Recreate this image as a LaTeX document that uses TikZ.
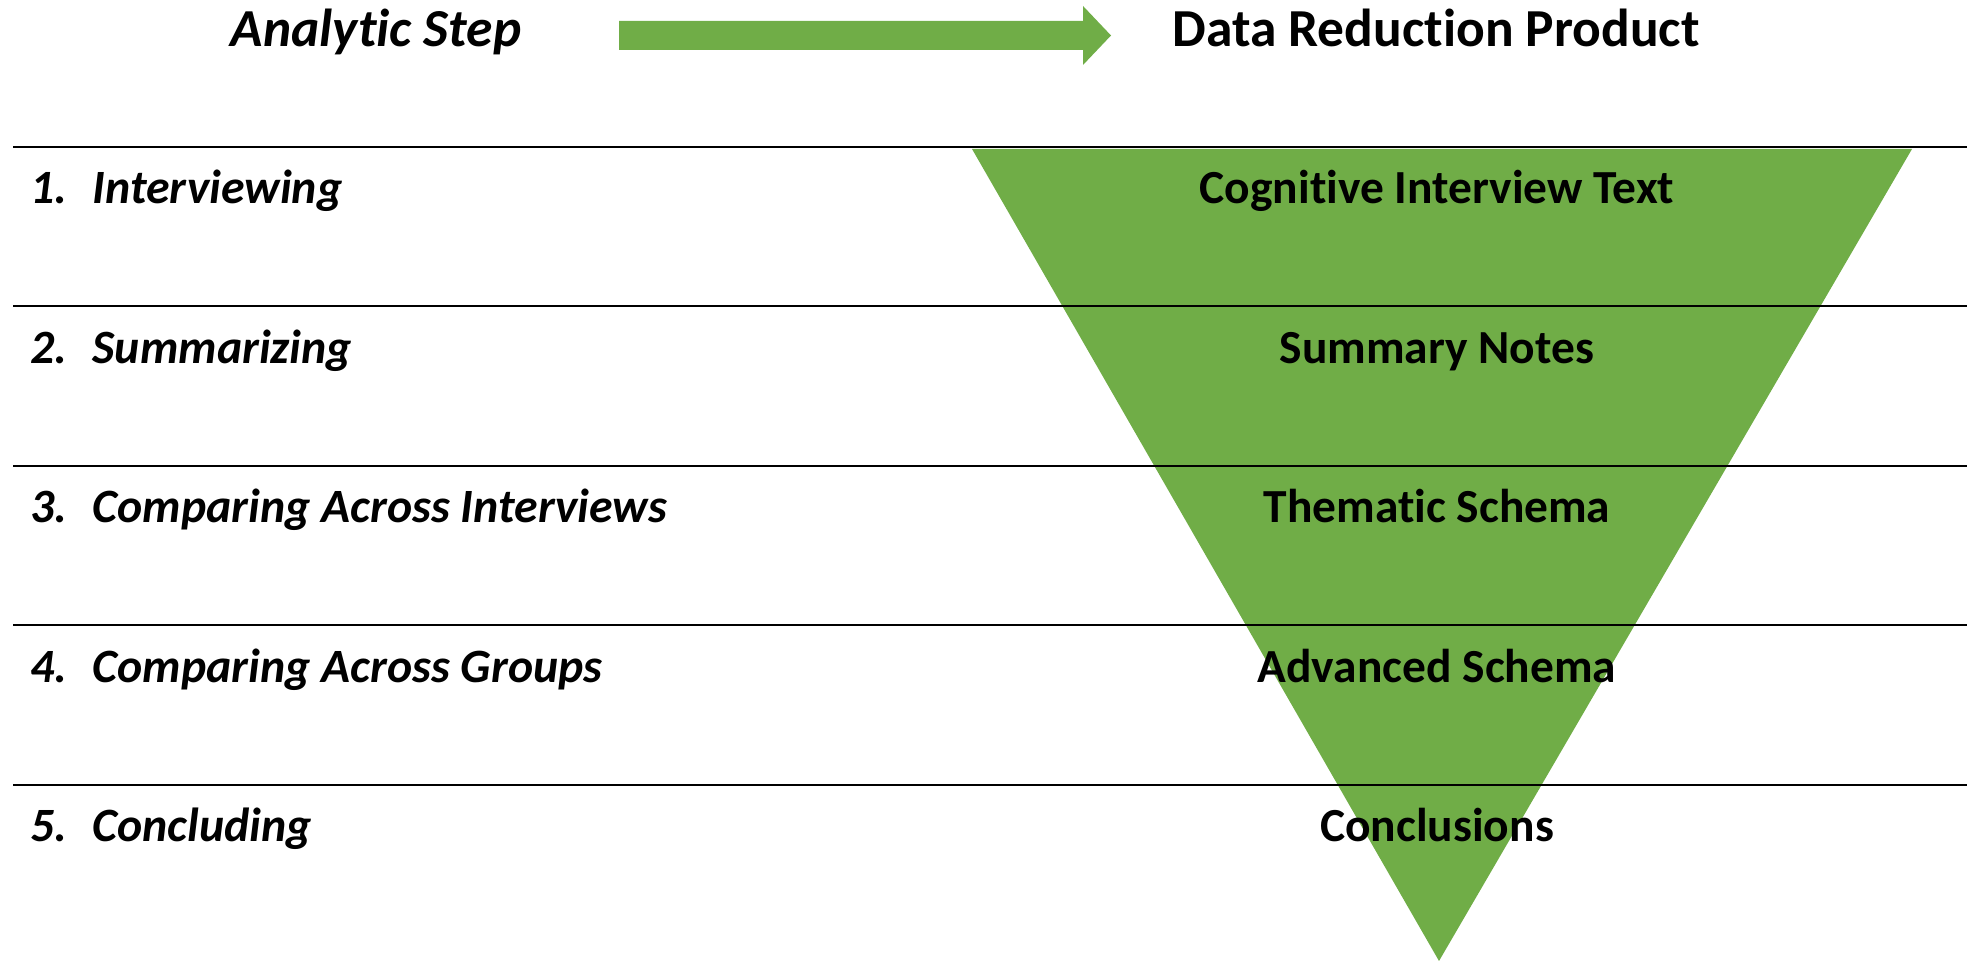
\documentclass[tikz,border=0pt]{standalone}
\usepackage{fontspec}
\setmainfont{Carlito}[Ligatures=NoCommon]
\usetikzlibrary{positioning}
\definecolor{FunnelGreen}{RGB}{112,173,71}

\newcommand{\stepnum}[1]{\makebox[0.62cm][l]{#1}}

\begin{document}
\begin{tikzpicture}[x=0.01cm, y=-0.01cm,
    every node/.style={font=\fontsize{13.5}{16}\selectfont\bfseries, inner sep=0pt},
    steplabel/.style={anchor=base west, font=\fontsize{13.6}{16}\selectfont\bfseries\itshape},
    product/.style={anchor=base},
    header/.style={font=\fontsize{15.2}{18}\selectfont\bfseries, anchor=base},
    rule/.style={line width=0.8pt, black}]
  \useasboundingbox (0,0) rectangle (1967,962);

  % reduction funnel
  \fill[FunnelGreen] (972,149) -- (1912,149) -- (1439,961) -- cycle;

  % row separators
  \draw[rule] (13,147) -- (1967,147);
  \draw[rule] (13,306) -- (1967,306);
  \draw[rule] (13,466) -- (1967,466);
  \draw[rule] (13,625) -- (1967,625);
  \draw[rule] (13,785) -- (1967,785);

  % header
  \node[header, font=\fontsize{15.2}{18}\selectfont\bfseries\itshape] (hstep) at (376,47) {Analytic Step};
  \node[header] (hprod) at (1436,47) {Data Reduction Product};
  \fill[FunnelGreen] (619,21) -- (1083,21) -- (1083,6) -- (1111,35.5)
    -- (1083,65) -- (1083,50) -- (619,50) -- cycle;

  % analytic steps
  \node[steplabel] (s1) at (30,204) {\stepnum{1.}Interviewing};
  \node[steplabel] (s2) at (30,364) {\stepnum{2.}Summarizing};
  \node[steplabel] (s3) at (30,523) {\stepnum{3.}Comparing Across Interviews};
  \node[steplabel] (s4) at (30,683) {\stepnum{4.}Comparing Across Groups};
  \node[steplabel] (s5) at (30,842) {\stepnum{5.}Concluding};

  % products
  \node[product] (p1) at (1437,204) {Cognitive Interview Text};
  \node[product] (p2) at (1437,364) {Summary Notes};
  \node[product] (p3) at (1437,523) {Thematic Schema};
  \node[product] (p4) at (1437,683) {Advanced Schema};
  \node[product] (p5) at (1437,842) {Conclusions};
\end{tikzpicture}
\end{document}
